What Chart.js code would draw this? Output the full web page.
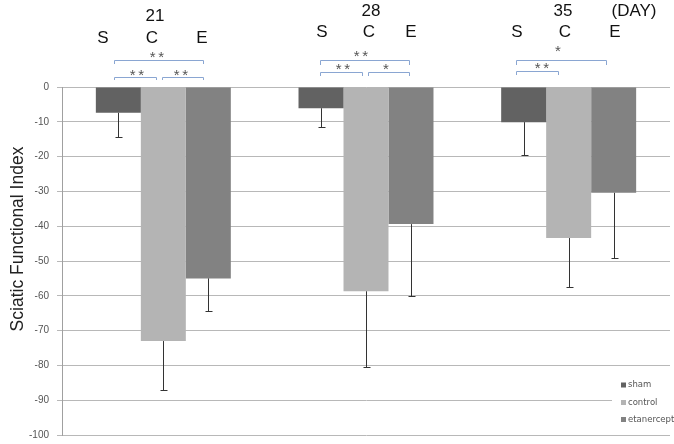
<!DOCTYPE html>
<html><head><meta charset="utf-8">
<script src="https://cdn.jsdelivr.net/npm/chart.js@4"></script>
<style>html,body{margin:0;padding:0;background:#fff}#wrap{width:674px;height:444px;position:relative}</style>
</head><body><div id="wrap"><canvas id="c" width="674" height="444"></canvas></div>
<script>
// ---- data ----
const categories = ['21', '28', '35'];
const seriesNames = ['sham', 'control', 'etanercept'];
const shamValues = [-7.4, -6.1, -10.1];
const controlValues = [-73.0, -58.7, -43.4];
const etanerceptValues = [-55.0, -39.4, -30.4];
const shamSD = [6.9, 5.3, 9.3];
const controlSD = [14.0, 21.7, 14.2];
const etanerceptSD = [9.5, 20.6, 18.6];
const yMin = -100, yMax = 0, yStep = 10;
const yTitle = 'Sciatic Functional Index';
const groupLetters = ['S', 'C', 'E'];
const dayUnit = '(DAY)';
// significance marks per group: [from series, to series, label]
const sigMarks = [
  [['S', 'E', '**'], ['S', 'C', '**'], ['C', 'E', '**']],
  [['S', 'E', '**'], ['S', 'C', '**'], ['C', 'E', '*']],
  [['S', 'E', '*'], ['S', 'C', '**']]
];

// ---- layout of hand-placed annotations (pixels) ----
const dayPos = [[155, 16], [371, 11], [563, 11]];
const dayUnitPos = [634, 11];
const letterPos = [[[103, 38], [152, 38], [202, 38]], [[322, 32], [369, 32], [411, 32]], [[517, 32], [565, 32], [615, 32]]];
// bracket: x1, x2, y, legBottom, starX, starY
const bracketPos = [
  [[114, 203, 60, 64, 157, 53], [114, 156, 77, 80, 137, 71], [162, 203, 77, 80, 181, 71]],
  [[320, 409, 60, 65, 361, 52], [320, 362, 72, 76, 343, 65], [368, 409, 72, 76, 386, 65]],
  [[516, 606, 60, 65, 558, 47], [516, 558, 70.5, 75, 542, 64]]
];

const colors = ['#626262', '#b4b4b4', '#828282'];
const sds = [shamSD, controlSD, etanerceptSD];

const errorBars = {
  id: 'errorBars',
  afterDatasetsDraw(chart) {
    const ctx = chart.ctx, ys = chart.scales.y;
    ctx.save();
    ctx.strokeStyle = '#333';
    ctx.lineWidth = 1;
    chart.data.datasets.forEach((ds, di) => {
      const meta = chart.getDatasetMeta(di);
      meta.data.forEach((bar, i) => {
        const v = ds.data[i];
        const yEnd = Math.round(ys.getPixelForValue(v - sds[di][i])) + 0.5;
        const x = Math.round(bar.x) + 0.5;
        ctx.beginPath();
        ctx.moveTo(x, bar.y);
        ctx.lineTo(x, yEnd);
        ctx.moveTo(x - 3, yEnd);
        ctx.lineTo(x + 4, yEnd);
        ctx.stroke();
      });
    });
    ctx.restore();
  }
};

const annotations = {
  id: 'annotations',
  afterDraw(chart) {
    const ctx = chart.ctx;
    ctx.save();
    ctx.fillStyle = '#111';
    ctx.font = '17px "Liberation Sans", Arial, sans-serif';
    ctx.textAlign = 'center';
    ctx.textBaseline = 'middle';
    categories.forEach((c, i) => ctx.fillText(c, dayPos[i][0], dayPos[i][1]));
    ctx.fillText(dayUnit, dayUnitPos[0], dayUnitPos[1]);
    letterPos.forEach(g => g.forEach((p, k) => ctx.fillText(groupLetters[k], p[0], p[1])));
    // brackets
    ctx.strokeStyle = '#8aa6d2';
    ctx.lineWidth = 1;
    sigMarks.forEach((g, gi) => g.forEach((m, mi) => {
      const b = bracketPos[gi][mi];
      ctx.beginPath();
      ctx.moveTo(b[0] + 0.5, b[3]);
      ctx.lineTo(b[0] + 0.5, Math.round(b[2]) + 0.5);
      ctx.lineTo(b[1] + 0.5, Math.round(b[2]) + 0.5);
      ctx.lineTo(b[1] + 0.5, b[3]);
      ctx.stroke();
      ctx.fillStyle = '#555';
      ctx.font = '15px "Liberation Sans", Arial, sans-serif';
      ctx.textBaseline = 'alphabetic';
      const n = m[2].length;
      for (let k = 0; k < n; k++) {
        ctx.fillText('*', b[4] + (k - (n - 1) / 2) * 8.5, b[5] + 8.5);
      }
    }));
    // y title
    ctx.fillStyle = '#222';
    ctx.font = '17.5px "Liberation Sans", Arial, sans-serif';
    ctx.textBaseline = 'middle';
    ctx.translate(18, 239);
    ctx.rotate(-Math.PI / 2);
    ctx.fillText(yTitle, 0, 0);
    ctx.restore();

    // legend
    ctx.save();
    ctx.fillStyle = '#fff';
    ctx.fillRect(612, 372, 60, 60);
    ctx.font = '8.5px "DejaVu Sans", Tahoma, sans-serif';
    ctx.textAlign = 'left';
    ctx.textBaseline = 'middle';
    const ly = [385, 402.5, 419.5];
    chart.data.datasets.forEach((ds, i) => {
      ctx.fillStyle = ds.backgroundColor;
      ctx.fillRect(621, ly[i] - 2.5, 5, 5);
      ctx.fillStyle = '#555';
      ctx.fillText(ds.label, 628, ly[i]);
    });
    ctx.restore();
  }
};

new Chart(document.getElementById('c'), {
  type: 'bar',
  data: {
    labels: categories,
    datasets: [
      { label: seriesNames[0], data: shamValues, backgroundColor: colors[0] },
      { label: seriesNames[1], data: controlValues, backgroundColor: colors[1] },
      { label: seriesNames[2], data: etanerceptValues, backgroundColor: colors[2] }
    ]
  },
  options: {
    responsive: false,
    devicePixelRatio: 1,
    animation: false,
    layout: { padding: { top: 87, right: 4, bottom: 5, left: 0 } },
    datasets: { bar: { categoryPercentage: 0.666, barPercentage: 1.0, borderWidth: 0 } },
    plugins: { legend: { display: false }, tooltip: { enabled: false } },
    scales: {
      x: { display: false },
      y: {
        min: yMin, max: yMax,
        afterFit(scale) { scale.width = 62; },
        ticks: { stepSize: yStep, padding: 8, color: '#555', font: { size: 10, lineHeight: 0.2, family: '"Liberation Sans", Arial, sans-serif' } },
        grid: { color: '#b8b8b8', lineWidth: 1, tickLength: 5, drawTicks: true },
        border: { color: '#a0a0a0', width: 1 }
      }
    }
  },
  plugins: [errorBars, annotations]
});
</script></body></html>
